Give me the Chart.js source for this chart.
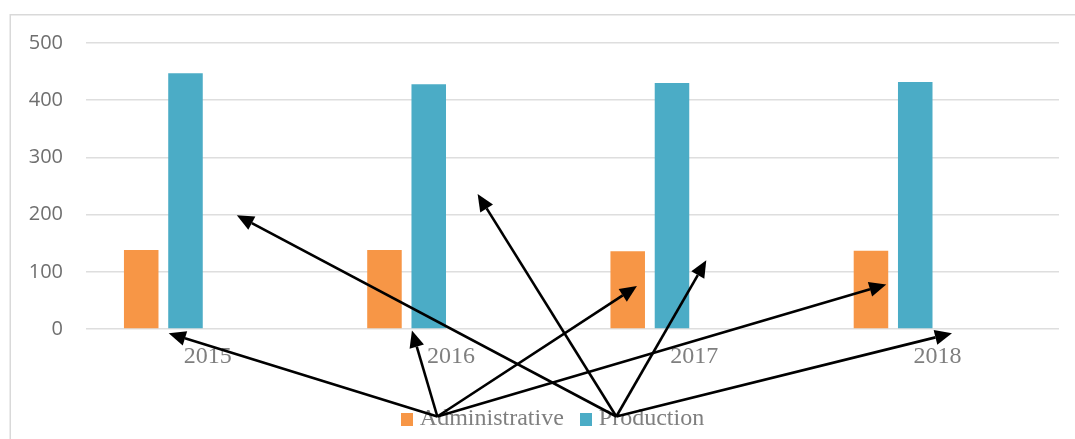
<!DOCTYPE html>
<html>
<head>
<meta charset="utf-8">
<script src="https://cdn.jsdelivr.net/npm/chart.js@4/dist/chart.umd.min.js"></script>
<style>
  html, body { margin: 0; padding: 0; background: #ffffff; }
  #wrap { width: 1075px; height: 439px; position: relative; }
</style>
</head>
<body>
<div id="wrap"><canvas id="chart" width="1075" height="439"></canvas></div>
<script>
// Headcount by department, 2015-2018
const years = ['2015', '2016', '2017', '2018'];
const administrative = [138, 138, 136, 137];
const production = [447, 428, 430, 432];
const yTicks = [0, 100, 200, 300, 400, 500];

// Callout arrows leaving each legend label: [category position, value]
const administrativeCallouts = [[-0.16, -7.5], [0.84, -2.5], [1.765, 75], [2.79, 78]];
const productionCallouts = [[0.12, 199], [1.11, 236], [2.05, 120], [3.06, -7.5]];

const ORANGE = '#F79646';
const BLUE = '#4BACC6';

// Small square legend swatches, drawn tight to the label text
function swatch(color) {
  const c = document.createElement('canvas');
  c.width = 12; c.height = 13;
  const g = c.getContext('2d');
  g.fillStyle = color;
  g.fillRect(0, 0, 12, 13);
  return c;
}
const swatches = [swatch(ORANGE), swatch(BLUE)];

// Light frame around the chart object
const framePlugin = {
  id: 'frame',
  beforeDraw(chart) {
    const ctx = chart.ctx;
    ctx.save();
    ctx.fillStyle = '#ffffff';
    ctx.fillRect(0, 0, chart.width, chart.height);
    ctx.strokeStyle = '#d9d9d9';
    ctx.lineWidth = 1.5;
    ctx.beginPath();
    ctx.moveTo(10.25, chart.height);
    ctx.lineTo(10.25, 14.75);
    ctx.lineTo(chart.width, 14.75);
    ctx.stroke();
    ctx.restore();
  }
};

// Nudge the legend row under the plot centre
const legendOffsetPlugin = {
  id: 'legendOffset',
  afterLayout(chart) {
    const lg = chart.legend;
    if (!lg) return;
    lg.left += 14; lg.right += 14;
    lg.top += 2; lg.bottom += 2;
  }
};

function drawArrow(ctx, x0, y0, x1, y1) {
  const ang = Math.atan2(y1 - y0, x1 - x0);
  const headLen = 17, headHalf = 7.5;
  const bx = x1 - headLen * Math.cos(ang);
  const by = y1 - headLen * Math.sin(ang);
  ctx.beginPath();
  ctx.moveTo(x0, y0);
  ctx.lineTo(bx, by);
  ctx.stroke();
  ctx.beginPath();
  ctx.moveTo(x1, y1);
  ctx.lineTo(bx + headHalf * Math.sin(ang), by - headHalf * Math.cos(ang));
  ctx.lineTo(bx - headHalf * Math.sin(ang), by + headHalf * Math.cos(ang));
  ctx.closePath();
  ctx.fill();
}

// Arrows from the legend labels into the plot, placed through the scales
const calloutPlugin = {
  id: 'callouts',
  afterDraw(chart) {
    const legend = chart.legend;
    if (!legend || !legend.legendHitBoxes) return;
    const xs = chart.scales.x, ys = chart.scales.y;
    const lab = legend.options.labels;
    const fontSize = lab.font.size;
    const groups = [administrativeCallouts, productionCallouts];
    const ctx = chart.ctx;
    ctx.save();
    ctx.strokeStyle = '#000000';
    ctx.fillStyle = '#000000';
    ctx.lineWidth = 2.6;
    groups.forEach((targets, i) => {
      const hb = legend.legendHitBoxes[i];
      if (!hb) return;
      const ox = hb.left + lab.boxWidth + fontSize / 2 + 17.5;
      const oy = hb.top + hb.height / 2 - 2.5;
      targets.forEach(([pos, val]) => {
        drawArrow(ctx, ox, oy, xs.getPixelForValue(pos), ys.getPixelForValue(val));
      });
    });
    ctx.restore();
  }
};

new Chart(document.getElementById('chart'), {
  type: 'bar',
  data: {
    labels: years,
    datasets: [
      { label: 'Administrative', data: administrative, backgroundColor: ORANGE, borderWidth: 0 },
      { label: 'Production', data: production, backgroundColor: BLUE, borderWidth: 0 },
      // two empty series keep the Excel-style four-slot grouping
      { label: '', data: [], backgroundColor: 'rgba(0,0,0,0)' },
      { label: '', data: [], backgroundColor: 'rgba(0,0,0,0)' }
    ]
  },
  options: {
    responsive: false,
    animation: false,
    devicePixelRatio: 1,
    categoryPercentage: 0.728,
    barPercentage: 0.78,
    layout: { padding: { left: 24, right: 16, top: 43, bottom: 0 } },
    scales: {
      x: {
        grid: { display: false, drawTicks: false },
        border: { display: false },
        ticks: {
          padding: 13,
          color: '#7f7f7f',
          font: { family: '"Liberation Serif", "Times New Roman", serif', size: 24 }
        },
        afterFit(scale) { scale.height = 54; }
      },
      y: {
        min: 0,
        max: 500,
        afterBuildTicks(scale) { scale.ticks = yTicks.map(v => ({ value: v })); },
        grid: { color: '#dedede', lineWidth: 1.5, drawTicks: false },
        border: { display: false },
        ticks: {
          padding: 23,
          color: '#6f6f6f',
          font: { family: '"Open Sans", sans-serif', size: 20 }
        },
        afterFit(scale) { scale.width = 62; }
      }
    },
    plugins: {
      legend: {
        position: 'bottom',
        labels: {
          usePointStyle: true,
          boxWidth: 1,
          padding: 22,
          color: '#7f7f7f',
          font: { family: '"Liberation Serif", "Times New Roman", serif', size: 24 },
          generateLabels(chart) {
            const items = Chart.defaults.plugins.legend.labels.generateLabels(chart)
              .filter(item => item.text !== '');
            items.forEach((item, i) => { item.pointStyle = swatches[i]; });
            return items;
          }
        }
      },
      tooltip: { enabled: false }
    }
  },
  plugins: [framePlugin, legendOffsetPlugin, calloutPlugin]
});
</script>
</body>
</html>
